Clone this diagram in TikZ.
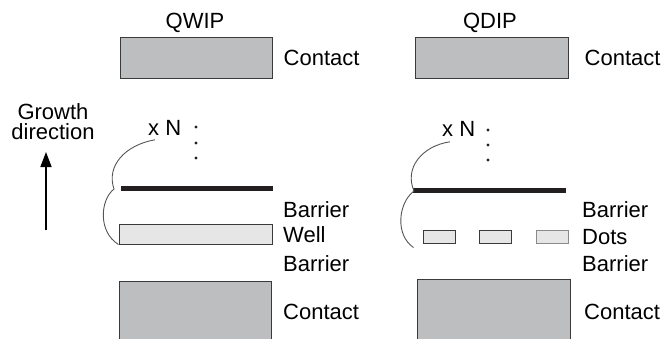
\documentclass[tikz,border=0pt]{standalone}
\usepackage{fontspec}
\setmainfont{Liberation Sans}
\usetikzlibrary{arrows.meta, positioning}
\usepackage{xcolor}
\definecolor{contactgray}{HTML}{BDBEC0}
\definecolor{wellgray}{HTML}{E6E6E6}
\definecolor{edgegray}{HTML}{3A3A3A}
\definecolor{bargray}{HTML}{231F20}
\definecolor{bracegray}{HTML}{555555}
\definecolor{lightedge}{HTML}{8A8A8A}

\begin{document}
\begin{tikzpicture}[
    x=1pt, y=-1pt,
    >={Triangle[length=15pt, width=11pt]},
    contact/.style={
        draw=edgegray,
        line width=1pt,
        fill=contactgray,
        minimum width=152pt,
        minimum height=41pt,
        inner sep=0pt,
    },
    layer/.style={
        draw=edgegray,
        line width=1pt,
        fill=wellgray,
        inner sep=0pt,
    },
    bar/.style={
        fill=bargray,
        minimum width=152pt,
        minimum height=5pt,
        inner sep=0pt,
    },
    lbl/.style={
        font=\fontsize{22}{20}\selectfont,
        text=black,
        inner sep=0pt,
    },
    brace/.style={
        draw=bracegray,
        line width=0.9pt,
    },
]
\useasboundingbox (0,0) rectangle (662,338);

% --- Titles ---
\node[lbl] (qwtitle) at (195,23) {QWIP};
\node[lbl] (qdtitle) at (490,23) {QDIP};

% --- Top contacts ---
\node[contact] (qwtop) at (196,57.5) {};
\node[contact, minimum width=153pt] (qdtop) at (491.5,57.5) {};
\node[lbl, right=11pt of qwtop] (qwtoplbl) {Contact};
\node[lbl, right=16pt of qdtop] (qdtoplbl) {Contact};

% --- Growth direction arrow ---
\node[lbl, align=center] (growth) at (53,122) {Growth\\direction};
\coordinate (grtail) at (46,230);
\coordinate (grhead) at (46,152);
\draw[->, line width=1.6pt] (grtail) -- (grhead);

% --- QWIP period: barrier bar and well ---
\node[lbl, anchor=west] (qwxn) at (148,128) {x N};
\foreach \yy in {127,143,158}
    \fill[bargray] (196,\yy) circle (1.6pt);
\node[bar] (qwbar) at (197,188) {};
\node[layer, minimum width=153pt, minimum height=20pt] (qwwell) at (195.5,234) {};
\node[lbl, anchor=west] (qwbarr1) at (283,210) {Barrier};
\node[lbl, anchor=west] (qwwelllbl) at (283,235) {Well};
\node[lbl, anchor=west] (qwbarr2) at (283,263.5) {Barrier};

% brace from x N round the period
\coordinate (qwcusp) at (114,189);
\draw[brace]
    ([xshift=7pt,yshift=-4pt]qwxn.south west)
    .. controls (125,145) and (106,166) .. (qwcusp)
    .. controls (100,200) and (98,232) .. (qwwell.south west);

% --- QDIP period: barrier bar and dots ---
\node[lbl, anchor=west] (qdxn) at (442,129) {x N};
\foreach \yy in {130,145,160}
    \fill[bargray] (488,\yy) circle (1.6pt);
\node[bar, minimum width=153pt] (qdbar) at (489.5,190) {};
\node[layer, minimum width=32pt, minimum height=13pt] (qddot1) at (439,236.5) {};
\node[layer, minimum width=32pt, minimum height=13pt] (qddot2) at (495.5,236.5) {};
\node[layer, draw=lightedge, minimum width=32pt, minimum height=13pt] (qddot3) at (552,236.5) {};
\node[lbl, anchor=west] (qdbarr1) at (582,210) {Barrier};
\node[lbl, anchor=west] (qddotlbl) at (582,237) {Dots};
\node[lbl, anchor=west] (qdbarr2) at (582,263.5) {Barrier};

% brace from x N round the period
\coordinate (qdcusp) at (414,191);
\draw[brace]
    ([xshift=8pt,yshift=-5pt]qdxn.south west)
    .. controls (422,146) and (404,168) .. (qdcusp)
    .. controls (398,203) and (395,235) .. ([xshift=-9pt,yshift=-4pt]qddot1.south west);

% --- Bottom contacts (run off the lower edge) ---
\node[contact, minimum height=80pt] (qwbot) at (195.5,321) {};
\node[contact, minimum width=153pt, minimum height=80pt] (qdbot) at (493.5,319) {};
\node[lbl, anchor=west] (qwbotlbl) at (283,312) {Contact};
\node[lbl, anchor=west] (qdbotlbl) at (584,312) {Contact};

\end{tikzpicture}
\end{document}
